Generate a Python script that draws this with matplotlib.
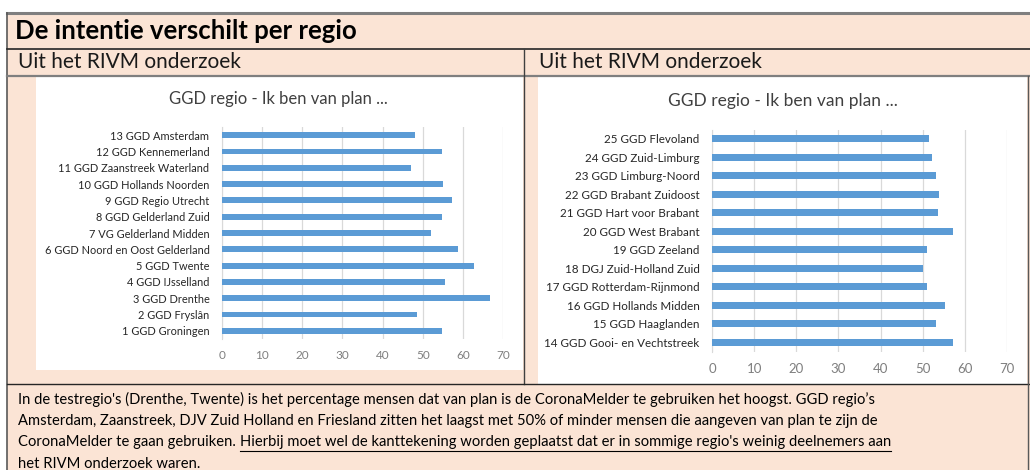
import matplotlib
matplotlib.use("Agg")
import matplotlib.pyplot as plt
from matplotlib.patches import Rectangle

# ---------------- data ----------------
left_regions = ["13 GGD Amsterdam", "12 GGD Kennemerland", "11 GGD Zaanstreek Waterland",
                "10 GGD Hollands Noorden", "9 GGD Regio Utrecht", "8 GGD Gelderland Zuid",
                "7 VG Gelderland Midden", "6 GGD Noord en Oost Gelderland", "5 GGD Twente",
                "4 GGD IJsselland", "3 GGD Drenthe", "2 GGD Fryslân", "1 GGD Groningen"]
left_values = [48.2, 54.8, 47.0, 55.1, 57.2, 54.8, 52.1, 58.7, 62.8, 55.6, 66.7, 48.6, 54.8]

right_regions = ["25 GGD Flevoland", "24 GGD Zuid-Limburg", "23 GGD Limburg-Noord",
                 "22 GGD Brabant Zuidoost", "21 GGD Hart voor Brabant", "20 GGD West Brabant",
                 "19 GGD Zeeland", "18 DGJ Zuid-Holland Zuid", "17 GGD Rotterdam-Rijnmond",
                 "16 GGD Hollands Midden", "15 GGD Haaglanden", "14 GGD Gooi- en Vechtstreek"]
right_values = [51.5, 52.1, 53.1, 53.8, 53.7, 57.1, 51.1, 50.0, 51.1, 55.4, 53.1, 57.2]

x_ticks = [0, 10, 20, 30, 40, 50, 60, 70]

page_title = "De intentie verschilt per regio"
sub_title = "Uit het RIVM onderzoek"
chart_title = "GGD regio - Ik ben van plan ..."
body_lines = [
    "In de testregio's (Drenthe, Twente) is het percentage mensen dat van plan is de CoronaMelder te gebruiken het hoogst. GGD regio\u2019s",
    "Amsterdam, Zaanstreek, DJV Zuid Holland en Friesland zitten het laagst met 50% of minder mensen die aangeven van plan te zijn de",
]
body_line3_plain = "CoronaMelder te gaan gebruiken. "
body_line3_under = "Hierbij moet wel de kanttekening worden geplaatst dat er in sommige regio's weinig deelnemers aan"
body_line4 = "het RIVM onderzoek waren."

# ---------------- style ----------------
W, H = 1030, 470
SALMON = "#FBE4D5"
BAR = "#5B9BD5"
GRID = "#D9D9D9"
FONT = "Lato"
plt.rcParams["font.family"] = [FONT, "DejaVu Sans"]

fig = plt.figure(figsize=(W / 100, H / 100), dpi=100)
fig.patch.set_facecolor("white")

# full-figure pixel canvas for the page layout
bg = fig.add_axes([0, 0, 1, 1])
bg.set_xlim(0, W)
bg.set_ylim(H, 0)
bg.axis("off")

def box(x0, y0, x1, y1, color):
    bg.add_patch(Rectangle((x0, y0), x1 - x0, y1 - y0, facecolor=color, edgecolor="none", zorder=0))

box(7, 13, W, H, SALMON)
box(36, 76, 523, 370, "white")
box(538, 76, 1027, 384, "white")

# table lines
bg.plot([7, W], [13, 13], color="#7F7F7F", lw=2.2, zorder=2)
bg.plot([7, 7], [13, H], color="#595959", lw=1.2, zorder=2)
bg.plot([7, W], [48.5, 48.5], color="#262626", lw=1.2, zorder=2)
bg.plot([7, W], [76, 76], color="#7F7F7F", lw=1.6, zorder=2)
bg.plot([524, 524], [48.5, 384], color="#404040", lw=1.0, zorder=2)
bg.plot([7, W], [384, 384], color="#262626", lw=1.0, zorder=2)
bg.plot([1028, 1028], [76, H], color="#595959", lw=1.0, zorder=2)

bg.text(15, 31, page_title, fontsize=18.5, fontweight="bold", va="center", ha="left", color="black")
bg.text(18, 62.5, sub_title, fontsize=15, va="center", ha="left", color="#1a1a1a")
bg.text(539, 62.5, sub_title, fontsize=15, va="center", ha="left", color="#1a1a1a")

# body text
body_fs = 10.65
line_y = [399, 420.5, 442, 463.5]
for y, s in zip(line_y, body_lines):
    bg.text(18, y, s, fontsize=body_fs, va="center", ha="left", color="black")
t_plain = bg.text(18, line_y[2], body_line3_plain, fontsize=body_fs, va="center", ha="left", color="black")
bg.text(18, line_y[3], body_line4, fontsize=body_fs, va="center", ha="left", color="black")

fig.canvas.draw()
ext = t_plain.get_window_extent()
inv = bg.transData.inverted()
x_end = inv.transform((ext.x1, ext.y0))[0]
t_under = bg.text(x_end, line_y[2], body_line3_under, fontsize=body_fs, va="center", ha="left", color="black")
fig.canvas.draw()
ext2 = t_under.get_window_extent()
x_u1 = inv.transform((ext2.x1, ext2.y0))[0]
bg.plot([x_end, x_u1], [line_y[2] + 8.5, line_y[2] + 8.5], color="black", lw=0.8)


def bar_chart(rect_px, regions, values, title_xy, label_fs, tick_fs, title_fs):
    x0, y0, x1, y1 = rect_px
    ax = fig.add_axes([x0 / W, 1 - y1 / H, (x1 - x0) / W, (y1 - y0) / H])
    ax.set_zorder(3)
    ax.patch.set_alpha(0)
    pos = list(range(len(regions)))
    ax.barh(pos, values, height=0.36, color=BAR, zorder=3)
    ax.set_ylim(len(regions) - 0.5, -0.5)
    ax.set_xlim(0, 70)
    ax.set_xticks(x_ticks)
    ax.set_yticks(pos)
    ax.set_yticklabels(regions, fontsize=label_fs, color="#262626")
    ax.tick_params(axis="x", labelsize=tick_fs, colors="#7F7F7F", length=0, pad=8)
    ax.tick_params(axis="y", length=0, pad=9)
    ax.grid(axis="x", color=GRID, lw=0.9, zorder=0)
    for s in ["top", "right", "bottom"]:
        ax.spines[s].set_visible(False)
    ax.spines["left"].set_color(GRID)
    bg.text(title_xy[0], title_xy[1], chart_title, fontsize=title_fs, ha="center", va="center", color="#404040")
    return ax

bar_chart((222, 127, 503, 339), left_regions, left_values, (278, 99), 7.9, 8.5, 12)
bar_chart((712, 129.5, 1007, 351.5), right_regions, right_values, (783, 101), 8.4, 9.5, 12.5)

fig.savefig("out.png", dpi=100, facecolor=fig.get_facecolor())
